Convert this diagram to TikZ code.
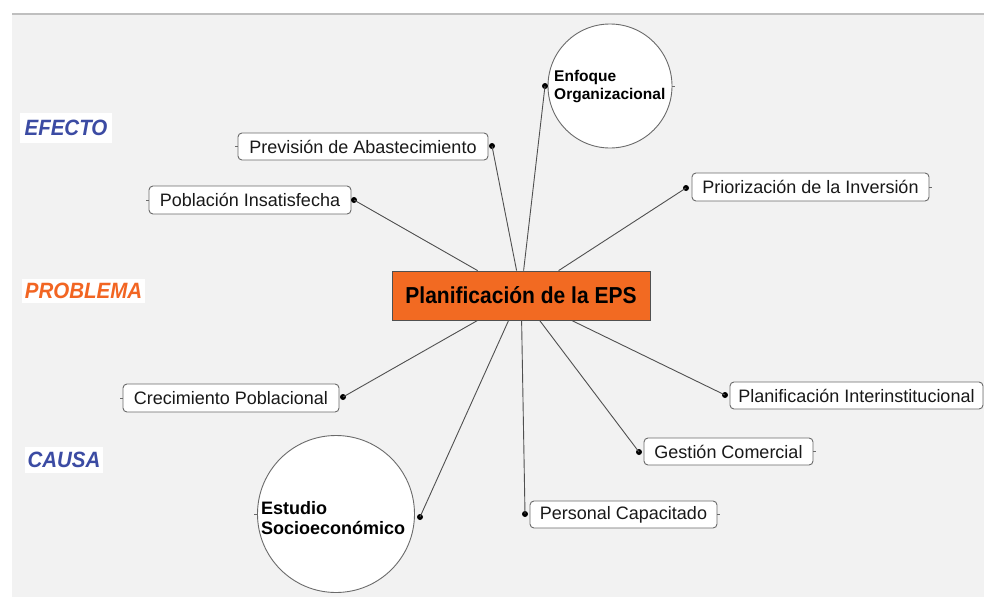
\documentclass[tikz,border=0pt]{standalone}
\usepackage{fontspec}
\setmainfont{Liberation Sans}
\usetikzlibrary{calc}
\definecolor{panel}{HTML}{F2F2F2}
\definecolor{lblue}{HTML}{3B4BA3}
\definecolor{lorange}{HTML}{F26522}
\definecolor{cfill}{HTML}{F26A22}
\definecolor{edge}{HTML}{505050}
\definecolor{bord}{HTML}{6A6A6A}
\tikzset{
  lbl/.style={fill=white, inner sep=0pt, font=\fontsize{20.5}{22}\selectfont\bfseries\itshape},
  itembox/.style={draw=bord, line width=0.9pt, fill=white, rounded corners=4pt, inner sep=0pt,
    font=\fontsize{18}{20}\selectfont, text=black!90},
  bubble/.style={draw=bord, line width=0.9pt, fill=white, circle, inner sep=0pt},
  conn/.style={draw=edge, line width=0.9pt},
  stub/.style={draw=bord, line width=0.8pt},
  dotm/.style={circle, fill=black, inner sep=0pt, minimum size=6pt},
}
\begin{document}
\begin{tikzpicture}[x=1pt, y=-1pt]
\useasboundingbox (0,0) rectangle (984,597);
\fill[white] (0,0) rectangle (984,597);
\fill[panel] (12,14) rectangle (984,597);
\draw[black!25, line width=1.5pt] (12,14) -- (984,14);

% side labels
\node[lbl, minimum width=92pt, minimum height=30pt, text=lblue] (efecto) at (66,128) {\scalebox{1}[1.08]{EFECTO}};
\node[lbl, minimum width=123pt, minimum height=24pt, text=lorange] (problema) at (83.5,291) {\scalebox{1}[1.08]{PROBLEMA}};
\node[lbl, minimum width=78pt, minimum height=26pt, text=lblue] (causa) at (64,460) {\scalebox{1}[1.08]{CAUSA}};

% central node
\node[draw=edge, line width=0.8pt, fill=cfill, minimum width=258pt, minimum height=49pt, inner sep=0pt,
  font=\fontsize{21}{23}\selectfont\bfseries] (c) at (521,295.5) {\scalebox{1}[1.1]{Planificación de la EPS}};

% items
\node[itembox, minimum width=250pt, minimum height=27pt] (prev) at (363,146.5) {Previsión de Abastecimiento};
\node[itembox, minimum width=202pt, minimum height=28pt] (pobl) at (250,200) {Población Insatisfecha};
\node[itembox, minimum width=237pt, minimum height=28pt] (prio) at (810.5,187) {Priorización de la Inversión};
\node[itembox, minimum width=216pt, minimum height=28pt] (crec) at (231,398) {Crecimiento Poblacional};
\node[itembox, minimum width=253pt, minimum height=27pt] (pint) at (856.5,395.5) {Planificación Interinstitucional};
\node[itembox, minimum width=169pt, minimum height=27pt] (gest) at (728.5,451.5) {Gestión Comercial};
\node[itembox, minimum width=187pt, minimum height=27pt] (pers) at (623.5,514.5) {Personal Capacitado};

% bubbles
\node[bubble, minimum size=124pt] (enf) at (610,86) {};
\node[anchor=west, align=left, inner sep=0pt, font=\fontsize{15.5}{18}\selectfont\bfseries] (enft) at (554,87) {Enfoque\\Organizacional};
\node[bubble, minimum size=157pt] (est) at (336,514) {};
\node[anchor=west, align=left, inner sep=0pt, font=\fontsize{18}{20}\selectfont\bfseries] (estt) at (261,518) {Estudio\\Socioeconómico};

% stubs
\draw[stub] (prev.west) -- ++(-3,0);
\draw[stub] (pobl.west) -- ++(-3,0);
\draw[stub] (crec.west) -- ++(-3,0);
\draw[stub] (prio.east) -- ++(3,0);
\draw[stub] (gest.east) -- ++(3,0);
\draw[stub] (pers.east) -- ++(3,0);
\draw[stub] (enf.east) -- ++(3,0);
\draw[stub] (est.west) -- ++(-3,0);

% dots
\node[dotm] (dpobl) at (354,200) {};
\node[dotm] (dprev) at (492,146) {};
\node[dotm] (denf) at (545,86) {};
\node[dotm] (dprio) at (686,188) {};
\node[dotm] (dcrec) at (343,397) {};
\node[dotm] (dest) at (420,517) {};
\node[dotm] (dpers) at (525,514) {};
\node[dotm] (dgest) at (639,452) {};
\node[dotm] (dpint) at (725,395) {};

% connectors
\draw[conn] (dpobl.center) -- ([xshift=86pt]c.north west);
\draw[conn] (dprev.center) -- ([xshift=125pt]c.north west);
\draw[conn] (denf.center) -- ([xshift=132pt]c.north west);
\draw[conn] (dprio.center) -- ([xshift=167pt]c.north west);
\draw[conn] (dcrec.center) -- ([xshift=86pt]c.south west);
\draw[conn] (dest.center) -- ([xshift=117pt]c.south west);
\draw[conn] (dpers.center) -- ([xshift=130pt]c.south west);
\draw[conn] (dgest.center) -- ([xshift=148pt]c.south west);
\draw[conn] (dpint.center) -- ([xshift=180pt]c.south west);
\end{tikzpicture}
\end{document}
